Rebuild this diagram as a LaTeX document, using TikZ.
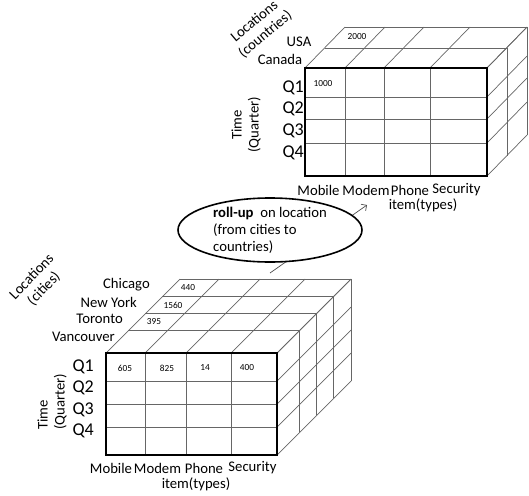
\documentclass[tikz,border=0pt]{standalone}
\usepackage{fontspec}
\setmainfont{Carlito}
\usetikzlibrary{shapes.geometric,arrows.meta}

\begin{document}
\begin{tikzpicture}[
    x=1pt, y=-1pt,
    cubeline/.style={draw=black!60, line width=0.7pt},
    facebox/.style={draw=black, line width=1.6pt},
    lab/.style={inner sep=0pt, font=\fontsize{14.7}{17}\selectfont},
    qlab/.style={inner sep=0pt, anchor=east, font=\fontsize{18}{20}\selectfont},
    val/.style={inner sep=0pt, font=\fontsize{9.3}{11}\selectfont},
    rollup/.style={ellipse, draw, line width=1.6pt, fill=white, minimum width=184pt, minimum height=64pt, inner sep=0pt},
    arrow/.style={-{Straight Barb[length=4pt,width=8pt]}, draw=black!70, line width=0.7pt}
]
\useasboundingbox (0,0) rectangle (529,495);

% cube by countries
\foreach \x in {305,345,384,430,487}
  \draw[cubeline] (\x,68) -- ++(40,-41);
\foreach \y in {68,97,119,143,176}
  \draw[cubeline] (487,\y) -- ++(40,-41);
\foreach \dx/\dy in {20/20,40/41}
  \draw[cubeline] (305+\dx,68-\dy) -- (487+\dx,68-\dy) -- (487+\dx,176-\dy);
\foreach \x in {345,384,430}
  \draw[cubeline] (\x,68) -- (\x,176);
\foreach \y in {97,119,143}
  \draw[cubeline] (305,\y) -- (487,\y);
\draw[facebox] (305,68) rectangle (487,176);

\node[lab, rotate=40, align=center] (loccountries) at (260,28) {Locations\\(countries)};
\node[lab] (usa) at (299,42) {USA};
\node[lab] (canada) at (280,59) {Canada};
\node[val] (usamobile) at (357,37) {2000};
\node[val] (canmobile) at (323,84) {1000};
\node[qlab] (tq1) at (304,88) {Q1};
\node[qlab] (tq2) at (304,109) {Q2};
\node[qlab] (tq3) at (304,131) {Q3};
\node[qlab] (tq4) at (304,153) {Q4};
\node[lab, rotate=90, align=center] (ttime) at (246,125) {Time\\(Quarter)};
\node[lab] (tmobile) at (318.5,190) {Mobile};
\node[lab] (tmodem) at (366,190) {Modem};
\node[lab] (tphone) at (410,190) {Phone};
\node[lab] (tsecurity) at (456.5,190) {Security};
\node[lab] (titem) at (423,205) {item(types)};

% cube by cities
\foreach \x in {106,145,186,231,277}
  \draw[cubeline] (\x,353) -- ++(74,-74);
\foreach \y in {353,381,404,427,455}
  \draw[cubeline] (277,\y) -- ++(74,-74);
\foreach \dx/\dy in {22/23,39/40,56/57,74/74}
  \draw[cubeline] (106+\dx,353-\dy) -- (277+\dx,353-\dy) -- (277+\dx,455-\dy);
\foreach \x in {145,186,231}
  \draw[cubeline] (\x,353) -- (\x,455);
\foreach \y in {381,404,427}
  \draw[cubeline] (106,\y) -- (277,\y);
\draw[facebox] (106,353) rectangle (277,455);

\node[lab, rotate=46, align=center] (loccities) at (38,283) {Locations\\(cities)};
\node[lab, anchor=east] (chicago) at (150,285) {Chicago};
\node[lab, anchor=east] (newyork) at (137,302) {New York};
\node[lab, anchor=east] (toronto) at (123,319) {Toronto};
\node[lab, anchor=east] (vancouver) at (115,337) {Vancouver};
\node[val] (chimobile) at (188,288) {440};
\node[val] (nymobile) at (173,305) {1560};
\node[val] (tormobile) at (154,322) {395};
\node[val] (vanmobile) at (125,368) {605};
\node[val] (vanmodem) at (167,368) {825};
\node[val] (vanphone) at (205,368) {14};
\node[val] (vansecurity) at (247,368) {400};
\node[qlab] (bq1) at (94,367) {Q1};
\node[qlab] (bq2) at (94,388) {Q2};
\node[qlab] (bq3) at (94,410) {Q3};
\node[qlab] (bq4) at (94,431) {Q4};
\node[lab, rotate=90, align=left] (btime) at (52,402) {Time\\(Quarter)};
\node[lab] (bmobile) at (111,468) {Mobile};
\node[lab] (bmodem) at (157.5,468) {Modem};
\node[lab] (bphone) at (204,468) {Phone};
\node[lab] (bsecurity) at (252.5,468) {Security};
\node[lab] (bitem) at (196,484) {item(types)};

% roll-up
\coordinate (rollfrom) at (270,273);
\coordinate (rollto) at (367,205);
\draw[arrow] (rollfrom) -- (rollto);
\node[rollup] (roll) at (270,230) {};
\node[lab, align=left] (rolltext) at (roll.center) {\textbf{roll-up}\ \ on location\\(from cities to\\countries)};

\end{tikzpicture}
\end{document}
